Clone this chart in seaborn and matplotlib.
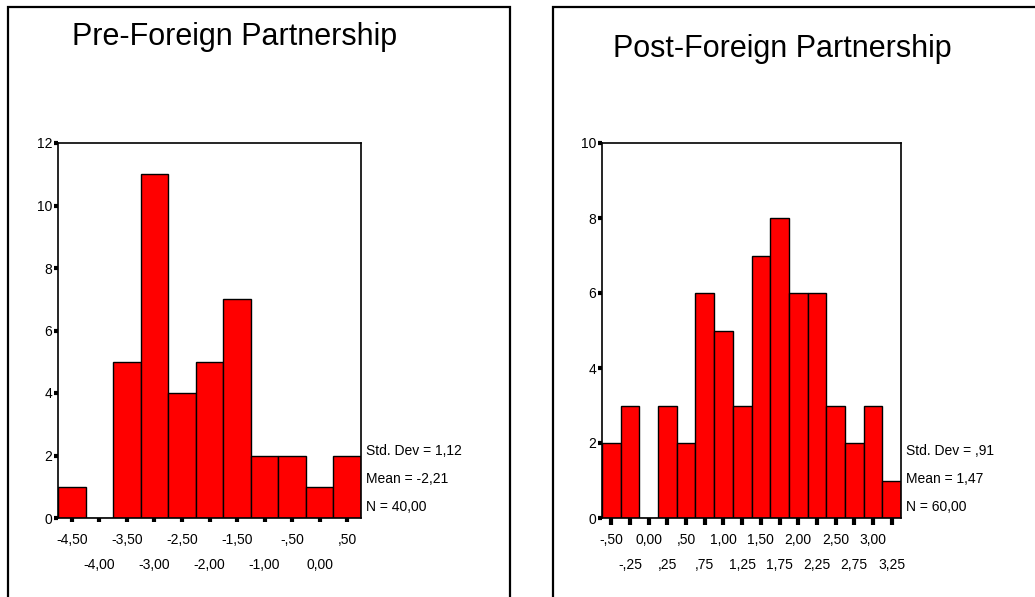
import numpy as np
import pandas as pd
import matplotlib
matplotlib.use('Agg')
import matplotlib.pyplot as plt
from matplotlib.patches import Rectangle
from matplotlib.transforms import offset_copy
import seaborn as sns

# --- data ---
pre_centers = [-4.5, -4.0, -3.5, -3.0, -2.5, -2.0, -1.5, -1.0, -0.5, 0.0, 0.5]
pre_counts = [1, 0, 5, 11, 4, 5, 7, 2, 2, 1, 2]
pre_labels = ['-4,50', '-4,00', '-3,50', '-3,00', '-2,50', '-2,00',
              '-1,50', '-1,00', '-,50', '0,00', ',50']
pre_stats = ['Std. Dev = 1,12', 'Mean = -2,21', 'N = 40,00']

post_centers = [-0.5, -0.25, 0.0, 0.25, 0.5, 0.75, 1.0, 1.25,
                1.5, 1.75, 2.0, 2.25, 2.5, 2.75, 3.0, 3.25]
post_counts = [2, 3, 0, 3, 2, 6, 5, 3, 7, 8, 6, 6, 3, 2, 3, 1]
post_labels = ['-,50', '-,25', '0,00', ',25', ',50', ',75', '1,00', '1,25',
               '1,50', '1,75', '2,00', '2,25', '2,50', '2,75', '3,00', '3,25']
post_stats = ['Std. Dev = ,91', 'Mean = 1,47', 'N = 60,00']

sns.set_style('white')
plt.rcParams['font.family'] = ['Liberation Sans', 'DejaVu Sans']
plt.rcParams['text.color'] = 'black'
plt.rcParams['xtick.color'] = 'black'
plt.rcParams['ytick.color'] = 'black'

W, H = 1035, 597
fig = plt.figure(figsize=(W / 100, H / 100), dpi=100)


def px_axes(x0, y0, x1, y1):
    # axes from pixel box (top-left origin)
    return fig.add_axes([x0 / W, 1 - y1 / H, (x1 - x0) / W, (y1 - y0) / H])


def spss_hist(ax, centers, counts, width, labels, ymax, stats, tick_len):
    edges = [c - width / 2 for c in centers] + [centers[-1] + width / 2]
    df = pd.DataFrame({'value': centers, 'count': counts})
    sns.histplot(data=df, x='value', weights='count', bins=edges, ax=ax,
                 color='#ff0000', alpha=1, edgecolor='black', linewidth=1.0)
    ax.set_xlim(edges[0], edges[-1])
    ax.set_ylim(0, ymax)
    ax.set_yticks(np.arange(0, ymax + 1, 2))
    ax.set_ylabel('')
    ax.set_xlabel('')
    # SPSS staggers the bin labels over two rows
    ax.set_xticks(centers[0::2], labels[0::2])
    ax.set_xticks(centers[1::2], labels[1::2], minor=True)
    ax.tick_params(axis='x', which='both', direction='out', length=tick_len,
                   width=3, color='black', labelsize=10, bottom=True)
    ax.tick_params(axis='x', which='major', pad=11 - tick_len)
    ax.tick_params(axis='x', which='minor', pad=29 - tick_len)
    ax.tick_params(axis='y', direction='out', length=3, width=3,
                   color='black', labelsize=10, pad=1, left=True)
    for s in ax.spines.values():
        s.set_color('black')
        s.set_linewidth(1.2)
    tr = offset_copy(ax.transAxes, fig=fig, x=5, y=0, units='dots')
    for txt, yf in zip(stats, [0.179, 0.104, 0.029]):
        ax.text(1.0, yf, txt, transform=tr, ha='left', va='center', fontsize=10)


ax1 = px_axes(58, 143, 361, 518)
spss_hist(ax1, pre_centers, pre_counts, 0.5, pre_labels, 12, pre_stats, 3)

ax2 = px_axes(602, 143, 901, 518)
spss_hist(ax2, post_centers, post_counts, 0.25, post_labels, 10, post_stats, 5)

# chart frames
fig.add_artist(Rectangle((8 / W, -0.1), (510 - 8) / W, 1.1 - 7 / H,
                         transform=fig.transFigure, fill=False,
                         edgecolor='black', linewidth=1.6))
fig.add_artist(Rectangle((553 / W, -0.1), 0.6, 1.1 - 7 / H,
                         transform=fig.transFigure, fill=False,
                         edgecolor='black', linewidth=1.6))

fig.text(235 / W, 1 - 45 / H, 'Pre-Foreign Partnership', ha='center',
         va='baseline', fontsize=22)
fig.text(782 / W, 1 - 57 / H, 'Post-Foreign Partnership', ha='center',
         va='baseline', fontsize=22)

fig.savefig('out.png', dpi=100)
